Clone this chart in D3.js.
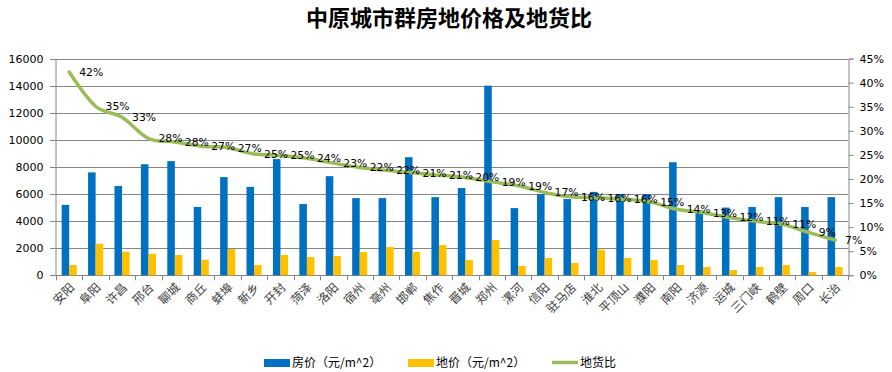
<!DOCTYPE html>
<html>
<head>
<meta charset="utf-8">
<script src="https://cdn.jsdelivr.net/npm/d3@7"></script>
<style>
  body { margin: 0; background: #fff; }
  svg { display: block; }
</style>
</head>
<body>
<div id="chart"></div>
<script>
// data
var cities = ["安阳", "阜阳", "许昌", "邢台", "聊城", "商丘", "蚌埠", "新乡", "开封", "菏泽",
              "洛阳", "宿州", "亳州", "邯郸", "焦作", "晋城", "郑州", "漯河", "信阳", "驻马店",
              "淮北", "平顶山", "濮阳", "南阳", "济源", "运城", "三门峡", "鹤壁", "周口", "长治"];
var housePrice = [5200, 7600, 6600, 8200, 8430, 5050, 7250, 6530, 8580, 5260,
                  7320, 5700, 5700, 8720, 5770, 6440, 14000, 4960, 6000, 5630,
                  6160, 6000, 6000, 8350, 4800, 5000, 5040, 5770, 5040, 5770];
var landPrice = [760, 2330, 1740, 1590, 1500, 1150, 1940, 760, 1500, 1350,
                 1420, 1720, 2090, 1720, 2230, 1130, 2600, 690, 1280, 910,
                 1890, 1280, 1130, 760, 610, 390, 610, 760, 240, 610];
var ratio = [0.422, 0.351, 0.328, 0.284, 0.277, 0.268, 0.265, 0.252, 0.249, 0.243,
             0.233, 0.224, 0.218, 0.213, 0.208, 0.203, 0.194, 0.186, 0.172, 0.163,
             0.161, 0.158, 0.152, 0.137, 0.130, 0.120, 0.112, 0.106, 0.089, 0.073];
var leftTicks = [0, 2000, 4000, 6000, 8000, 10000, 12000, 14000, 16000];
var rightTicks = [0, 0.05, 0.10, 0.15, 0.20, 0.25, 0.30, 0.35, 0.40, 0.45];
var seriesNames = ["房价（元/m^2）", "地价（元/m^2）", "地货比"];

var W = 892, H = 372;
var plotLeft = 56, plotRight = 848.3, plotTop = 58.6, plotBottom = 275.3;
var blue = "#0070C0", yellow = "#FFC000", green = "#9BBB59", gridColor = "#868686";
var numFont = "'DejaVu Sans', Verdana, sans-serif";
var cjkFont = "'Noto Sans CJK SC', sans-serif";

var svg = d3.select("#chart").append("svg")
    .attr("width", W)
    .attr("height", H);

var x = d3.scaleBand().domain(cities).range([plotLeft, plotRight]).paddingInner(0).paddingOuter(0);
var gap = 1.5; // excel gap width 150%
var barW = x.bandwidth() / (2 + gap);
var yL = d3.scaleLinear().domain([0, 16000]).range([plotBottom, plotTop]);
var yR = d3.scaleLinear().domain([0, 0.45]).range([plotBottom, plotTop]);

// title
svg.append("text")
    .attr("x", 449)
    .attr("y", 26)
    .attr("text-anchor", "middle")
    .attr("font-family", cjkFont)
    .attr("font-weight", "bold")
    .attr("font-size", 22)
    .attr("fill", "#000")
    .text("中原城市群房地价格及地货比");

// gridlines + left ticks
svg.append("g").selectAll("line")
    .data(leftTicks)
    .enter()
    .append("line")
    .attr("x1", plotLeft - 6)
    .attr("x2", plotRight)
    .attr("y1", function(d) { return Math.round(yL(d)) + 0.5; })
    .attr("y2", function(d) { return Math.round(yL(d)) + 0.5; })
    .attr("stroke", gridColor)
    .attr("stroke-width", 1);

// left axis
var gL = svg.append("g")
    .attr("transform", "translate(" + (plotLeft - 0.5) + ",0)")
    .call(d3.axisLeft(yL).tickValues(leftTicks).tickSize(0).tickPadding(12).tickFormat(d3.format("d")));
gL.select(".domain").attr("stroke", gridColor);
gL.selectAll("text").attr("font-family", numFont).attr("font-size", 11).attr("fill", "#000");

// right axis
var gR = svg.append("g")
    .attr("transform", "translate(" + (Math.round(plotRight) + 0.5) + ",0)")
    .call(d3.axisRight(yR).tickValues(rightTicks).tickSize(5).tickPadding(6).tickFormat(d3.format(".0%")));
gR.select(".domain").attr("stroke", gridColor);
gR.selectAll(".tick line").attr("stroke", gridColor);
gR.selectAll("text").attr("font-family", numFont).attr("font-size", 11).attr("fill", "#000");

// category ticks under the axis
var bounds = cities.map(function(c) { return x(c); }).concat([plotRight]);
svg.append("g").selectAll("line")
    .data(bounds)
    .enter()
    .append("line")
    .attr("x1", function(d) { return Math.round(d) + 0.5; })
    .attr("x2", function(d) { return Math.round(d) + 0.5; })
    .attr("y1", plotBottom)
    .attr("y2", plotBottom + 5)
    .attr("stroke", gridColor);

// bars
svg.append("g").selectAll("rect")
    .data(housePrice)
    .enter()
    .append("rect")
    .attr("x", function(d, i) { return x(cities[i]) + barW * gap / 2; })
    .attr("y", function(d) { return yL(d); })
    .attr("width", barW)
    .attr("height", function(d) { return yL(0) - yL(d); })
    .attr("fill", blue);

svg.append("g").selectAll("rect")
    .data(landPrice)
    .enter()
    .append("rect")
    .attr("x", function(d, i) { return x(cities[i]) + barW * gap / 2 + barW; })
    .attr("y", function(d) { return yL(d); })
    .attr("width", barW)
    .attr("height", function(d) { return yL(0) - yL(d); })
    .attr("fill", yellow);

// ratio line, smoothed like excel
var line = d3.line()
    .x(function(d, i) { return x(cities[i]) + x.bandwidth() / 2; })
    .y(function(d) { return yR(d); })
    .curve(d3.curveCatmullRom.alpha(0));

svg.append("path")
    .datum(ratio)
    .attr("d", line)
    .attr("fill", "none")
    .attr("stroke", green)
    .attr("stroke-width", 3.5)
    .attr("stroke-linecap", "round");

// data labels
svg.append("g").selectAll("text")
    .data(ratio)
    .enter()
    .append("text")
    .attr("x", function(d, i) { return x(cities[i]) + x.bandwidth() / 2 + 10; })
    .attr("y", function(d) { return yR(d); })
    .attr("dy", "0.36em")
    .attr("font-family", numFont)
    .attr("font-size", 10.8)
    .attr("fill", "#000")
    .text(function(d) { return Math.round(d * 100) + "%"; });

// category labels
svg.append("g").selectAll("text")
    .data(cities)
    .enter()
    .append("text")
    .attr("transform", function(d) {
        return "translate(" + (x(d) + x.bandwidth() / 2 + 3) + "," + (plotBottom + 10) + ") rotate(-45)";
    })
    .attr("text-anchor", "end")
    .attr("dy", "0.35em")
    .attr("font-family", cjkFont)
    .attr("font-size", 12)
    .attr("fill", "#404040")
    .text(function(d) { return d; });

// legend
var legend = svg.append("g");
var legendX = [264, 408, 552];
var legendColors = [blue, yellow, green];
seriesNames.forEach(function(name, i) {
    if (i < 2) {
        legend.append("rect")
            .attr("x", legendX[i])
            .attr("y", 359)
            .attr("width", 26)
            .attr("height", 8)
            .attr("fill", legendColors[i]);
    } else {
        legend.append("line")
            .attr("x1", legendX[i])
            .attr("x2", legendX[i] + 26)
            .attr("y1", 362.5)
            .attr("y2", 362.5)
            .attr("stroke", legendColors[i])
            .attr("stroke-width", 3.5);
    }
    legend.append("text")
        .attr("x", legendX[i] + 28)
        .attr("y", 363)
        .attr("dy", "0.35em")
        .attr("font-family", cjkFont)
        .attr("font-size", 12)
        .attr("fill", "#000")
        .text(name);
});
</script>
</body>
</html>
